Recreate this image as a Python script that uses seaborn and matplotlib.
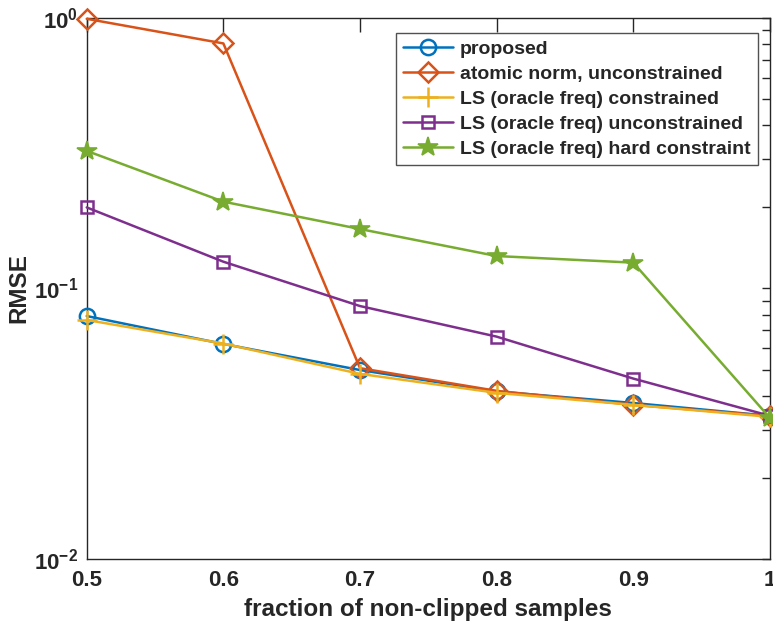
import numpy as np
import pandas as pd
import matplotlib
matplotlib.use("Agg")
import matplotlib.pyplot as plt
from matplotlib.ticker import FixedLocator, FixedFormatter, LogLocator, NullFormatter
import seaborn as sns

# fraction of non-clipped samples
fraction = [0.5, 0.6, 0.7, 0.8, 0.9, 1.0]

# RMSE per method
rmse_proposed = [0.0790, 0.0623, 0.0499, 0.0416, 0.0377, 0.0338]
rmse_atomic = [0.990, 0.803, 0.0507, 0.0418, 0.0371, 0.0338]
rmse_ls_constrained = [0.0764, 0.0625, 0.0483, 0.0411, 0.0371, 0.0335]
rmse_ls_unconstrained = [0.199, 0.1254, 0.0860, 0.0663, 0.0464, 0.0338]
rmse_ls_hard = [0.322, 0.209, 0.1656, 0.1316, 0.1244, 0.0332]

labels = [
    "proposed",
    "atomic norm, unconstrained",
    "LS (oracle freq) constrained",
    "LS (oracle freq) unconstrained",
    "LS (oracle freq) hard constraint",
]
ytick_values = [1e-2, 1e-1, 1e0]
ytick_labels = [r"$\mathbf{10^{-2}}$", r"$\mathbf{10^{-1}}$", r"$\mathbf{10^{0}}$"]
xtick_values = [0.5, 0.6, 0.7, 0.8, 0.9, 1.0]
xtick_labels = ["0.5", "0.6", "0.7", "0.8", "0.9", "1"]

sns.set_theme(style="white")
plt.rcParams["font.family"] = ["Liberation Sans", "DejaVu Sans"]
plt.rcParams["font.weight"] = "bold"
plt.rcParams["mathtext.fontset"] = "custom"
plt.rcParams["mathtext.rm"] = "Liberation Sans:bold"
plt.rcParams["mathtext.bf"] = "Liberation Sans:bold"

colors = ["#0072BD", "#D95319", "#EDB120", "#7E2F8E", "#77AC30"]
series = [rmse_proposed, rmse_atomic, rmse_ls_constrained,
          rmse_ls_unconstrained, rmse_ls_hard]
markers = [
    dict(marker="o", markersize=11, markerfacecolor="none", markeredgewidth=1.8),
    dict(marker="D", markersize=10, markerfacecolor="none", markeredgewidth=1.8),
    dict(marker="+", markersize=14, markeredgewidth=1.8),
    dict(marker="s", markersize=9, markerfacecolor="none", markeredgewidth=1.8),
    dict(marker="*", markersize=15, markeredgewidth=1.2),
]

fig = plt.figure(figsize=(7.73, 6.30), dpi=100)
ax = fig.add_axes([0.1122, 0.1127, 0.996 - 0.1122, 0.972 - 0.1127])

for vals, lab, col, mk in zip(series, labels, colors, markers):
    df = pd.DataFrame({"fraction": fraction, "rmse": vals})
    sns.lineplot(data=df, x="fraction", y="rmse", ax=ax, color=col,
                 label=lab, linewidth=1.8, markeredgecolor=col,
                 clip_on=False, zorder=3, **mk)

ax.set_yscale("log")
ax.set_xlim(0.5, 1.0)
ax.set_ylim(1e-2, 1e0)

ax.xaxis.set_major_locator(FixedLocator(xtick_values))
ax.xaxis.set_major_formatter(FixedFormatter(xtick_labels))
ax.yaxis.set_major_locator(FixedLocator(ytick_values))
ax.yaxis.set_major_formatter(FixedFormatter(ytick_labels))
ax.yaxis.set_minor_locator(LogLocator(base=10, subs=np.arange(2, 10)))
ax.yaxis.set_minor_formatter(NullFormatter())

ax.tick_params(axis="both", which="both", direction="in", top=True, right=True,
               color="#262626", width=1.0, labelcolor="#262626", labelsize=16)
ax.tick_params(axis="x", which="major", length=10, pad=8)
ax.tick_params(axis="y", which="major", length=5.5, pad=6, labelsize=16)
ax.tick_params(axis="y", which="minor", length=5.5)
for lbl in ax.get_xticklabels():
    lbl.set_fontweight("bold")

for sp in ax.spines.values():
    sp.set_color("#262626")
    sp.set_linewidth(1.0)

ax.set_xlabel("fraction of non-clipped samples", fontsize=17.5, fontweight="bold",
              color="#262626", labelpad=5)
ax.set_ylabel("RMSE", fontsize=17.5, fontweight="bold", color="#262626")
ax.yaxis.set_label_coords(-0.082, 0.5)

leg = ax.legend(loc="upper right", bbox_to_anchor=(0.982, 0.971),
                prop=dict(family="Liberation Sans", weight="bold", size=14),
                frameon=True, fancybox=False, edgecolor="#262626",
                handlelength=2.6, handletextpad=0.35, labelspacing=0.38,
                borderpad=0.35, borderaxespad=0)
leg.get_frame().set_linewidth(1.0)
leg.set_zorder(5)

fig.savefig("out.png", dpi=100, facecolor="white")
